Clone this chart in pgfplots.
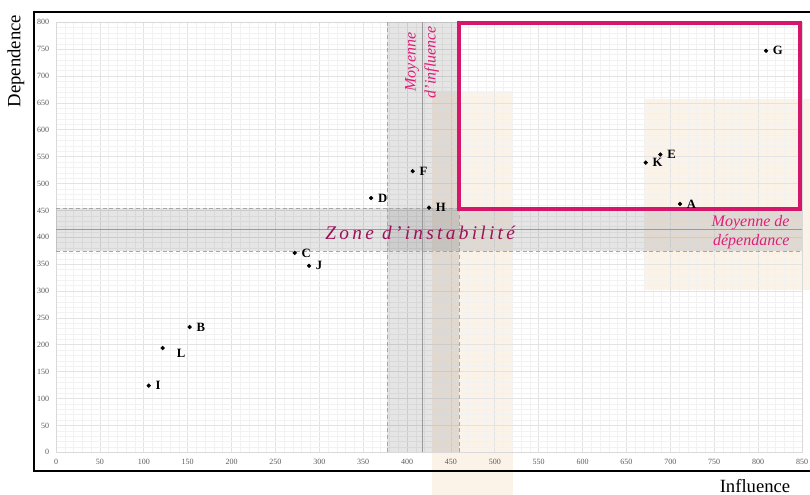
\documentclass[border=0pt]{standalone}
\usepackage{fontspec}
\setmainfont{Liberation Serif}
\usepackage{pgfplots}
\pgfplotsset{compat=1.18}
\usepackage{pgfplotstable}
\definecolor{pinkbox}{RGB}{214,22,106}
\definecolor{pinktext}{RGB}{222,30,120}
\definecolor{zonetext}{RGB}{155,18,88}
\definecolor{beige}{RGB}{236,196,150}
\definecolor{tickgray}{RGB}{90,90,90}

\pgfplotstableread{
x y lab
105.6 124 I
152.3 233 B
272.0 371 C
288.3 347 J
359.0 473 D
406.4 523 F
425.0 455 H
809.0 747 G
688.6 554 E
671.9 539 K
711.0 462 A
}\pointdata
\pgfplotstableread{
x y lab
121.5 194 L
}\pointdataL

\begin{document}
\begin{tikzpicture}
\useasboundingbox (0,0) rectangle (607.5pt,371.25pt);
% watermark
\fill[beige, opacity=0.22] (324pt,303pt) rectangle (384.75pt,0pt);
\fill[beige, opacity=0.22] (483.75pt,297pt) rectangle (607.5pt,153.75pt);
% frame
\draw[line width=2.2pt, black] (25.5pt,18pt) rectangle (612pt,362.25pt);
\begin{axis}[
  at={(42pt,32.03pt)}, anchor=south west,
  scale only axis, width=559.5pt, height=322.5pt,
  xmin=0, xmax=850, ymin=0, ymax=800,
  xtick distance=50, ytick distance=50,
  minor x tick num=4, minor y tick num=4,
  grid=both,
  major grid style={draw=black!11, line width=0.5pt},
  minor grid style={draw=black!5, line width=0.4pt},
  major tick length=0pt, minor tick length=0pt,
  axis line style={draw=black!15},
  /pgf/number format/assume math mode=true,
  /pgf/number format/1000 sep={},
  tick label style={font=\fontsize{6}{7}\selectfont, text=tickgray, inner sep=0pt},
  yticklabel style={anchor=east, xshift=-5pt},
  xticklabel style={anchor=north, yshift=-5pt},
  clip=false,
]
% bands
\fill[black, opacity=0.10] (axis cs:0,374) rectangle (axis cs:850,454);
\fill[black, opacity=0.10] (axis cs:377,0) rectangle (axis cs:459,800);
\draw[black!35, densely dashed, line width=0.4pt] (axis cs:0,374) -- (axis cs:850,374);
\draw[black!35, densely dashed, line width=0.4pt] (axis cs:0,454) -- (axis cs:850,454);
\draw[black!35, densely dashed, line width=0.4pt] (axis cs:377,0) -- (axis cs:377,800);
\draw[black!35, densely dashed, line width=0.4pt] (axis cs:459,0) -- (axis cs:459,800);
\draw[black!40, line width=0.6pt] (axis cs:0,415) -- (axis cs:850,415);
\draw[black!40, line width=0.6pt] (axis cs:418,0) -- (axis cs:418,800);
% pink box
\draw[pinkbox, line width=3pt] (axis cs:459,453) rectangle (axis cs:848,798);
% texts
\node[zonetext, font=\itshape\addfontfeatures{LetterSpace=17}\fontsize{14.5}{16}\selectfont] at (axis cs:415,408) {Zone d’instabilité};
\node[pinktext, rotate=90, align=center, font=\itshape\fontsize{12}{15}\selectfont] at (axis cs:417,726) {Moyenne\\d’influence};
\node[pinktext, anchor=east, align=right, font=\itshape\fontsize{12}{14.25}\selectfont, inner sep=0pt] at (axis cs:836,409) {Moyenne de\\dépendance};
% points
\addplot[only marks, mark=*, mark size=1.4pt, black,
  nodes near coords, point meta=explicit symbolic,
  nodes near coords style={anchor=west, xshift=5pt, inner sep=0pt, font=\bfseries\fontsize{9.5}{10}\selectfont, text=black}]
  table[x=x, y=y, meta=lab] {\pointdata};
\addplot[only marks, mark=*, mark size=1.4pt, black,
  nodes near coords, point meta=explicit symbolic,
  nodes near coords style={anchor=west, xshift=10.4pt, yshift=-3.75pt, inner sep=0pt, font=\bfseries\fontsize{9.5}{10}\selectfont, text=black}]
  table[x=x, y=y, meta=lab] {\pointdataL};
\end{axis}
\node[rotate=90, inner sep=0pt, font=\fontsize{14}{16}\selectfont] at (12pt,325.5pt) {Dependence};
\node[inner sep=0pt, font=\fontsize{14}{16}\selectfont] at (566.25pt,7pt) {Influence};
\end{tikzpicture}
\end{document}
